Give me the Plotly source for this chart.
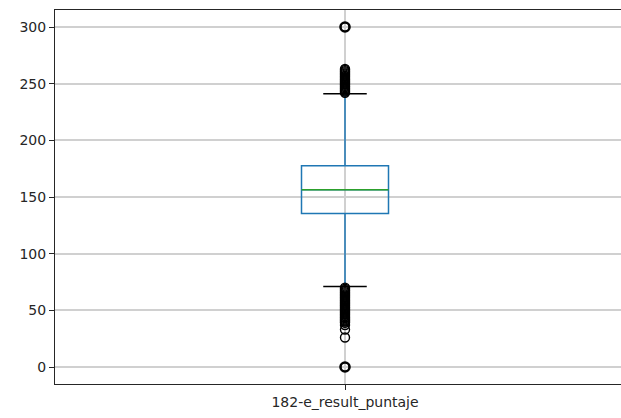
import plotly.graph_objects as go

category = "182-e_result_puntaje"
q1 = 135.5
median = 156.5
q3 = 177.5
lower_whisker = 71
upper_whisker = 241
high_outliers = list(range(242, 264)) + [300]
low_outliers = [0, 26, 33, 37] + list(range(39, 71))
y_ticks = [0, 50, 100, 150, 200, 250, 300]

pos = 1.0
box_w = 0.15
cap_w = box_w / 2

fig = go.Figure()
fig.add_trace(go.Box(
    x=[pos], q1=[q1], median=[median], q3=[q3],
    lowerfence=[lower_whisker], upperfence=[upper_whisker],
    width=box_w, whiskerwidth=0, boxpoints=False,
    line=dict(color="#1f77b4", width=1.5), fillcolor="rgba(0,0,0,0)",
    showlegend=False, hoverinfo="skip",
))
# median line (green)
fig.add_trace(go.Scatter(
    x=[pos - box_w / 2, pos + box_w / 2], y=[median, median], mode="lines",
    line=dict(color="#2ca02c", width=1.5), showlegend=False, hoverinfo="skip",
))
# caps (black)
for v in (lower_whisker, upper_whisker):
    fig.add_trace(go.Scatter(
        x=[pos - cap_w / 2, pos + cap_w / 2], y=[v, v], mode="lines",
        line=dict(color="black", width=1.5), showlegend=False, hoverinfo="skip",
    ))
# fliers
outliers = low_outliers + high_outliers
heavy = {0, 300}  # many stacked observations -> darker ring
light = [v for v in outliers if v not in heavy]
dense = [v for v in outliers if v in heavy]
fig.add_trace(go.Scatter(
    x=[pos] * len(light), y=light, mode="markers",
    marker=dict(symbol="circle-open", size=9, color="black", line=dict(width=1.4)),
    showlegend=False, hoverinfo="skip",
))
fig.add_trace(go.Scatter(
    x=[pos] * len(dense), y=dense, mode="markers",
    marker=dict(symbol="circle-open", size=9, color="black", line=dict(width=2.6)),
    showlegend=False, hoverinfo="skip",
))

W, H = 621, 418
l, r, t, b = 55, 0, 10, 34
plot_w = W - l - r
# full axes would be 580 px wide for xlim 0.5..1.5; picture is cropped on the right
x_max = 0.5 + plot_w / 580.0

fig.update_layout(
    width=W, height=H,
    margin=dict(l=l, r=r, t=t, b=b, pad=0),
    paper_bgcolor="white", plot_bgcolor="white",
    font=dict(family="DejaVu Sans", size=14, color="#262626"),
    xaxis=dict(
        range=[0.5, x_max], tickvals=[pos], ticktext=[category],
        showgrid=True, gridcolor="#d0d0d0", gridwidth=1.6,
        showline=True, linecolor="#262626", linewidth=1, mirror=True,
        ticks="outside", ticklen=5, tickcolor="#262626", zeroline=False,
    ),
    yaxis=dict(
        range=[-15, 315], tickvals=y_ticks,
        showgrid=True, gridcolor="#d0d0d0", gridwidth=1.6,
        showline=True, linecolor="#262626", linewidth=1, mirror=False,
        ticks="outside", ticklen=5, tickcolor="#262626", zeroline=False,
    ),
)

fig.write_html("out.html")
